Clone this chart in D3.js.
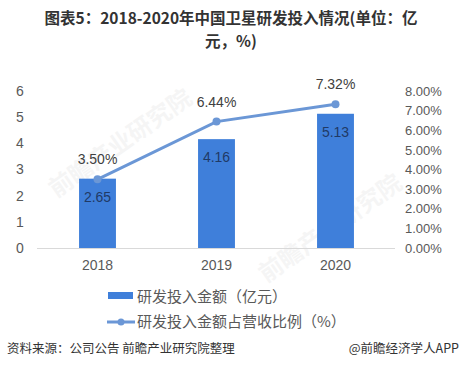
<!DOCTYPE html>
<html>
<head>
<meta charset="utf-8">
<script src="https://cdn.jsdelivr.net/npm/d3@7"></script>
<style>
  body { margin: 0; background: #fff; }
  svg { display: block; }
</style>
</head>
<body>
<div id="chart"></div>
<script>
let width = 462;
let height = 377;

// data
let years = ["2018", "2019", "2020"];
let spending = [2.65, 4.16, 5.13];      // 亿元
let ratio = [3.50, 6.44, 7.32];         // %
let leftTicks = [0, 1, 2, 3, 4, 5, 6];
let rightTicks = [0, 1, 2, 3, 4, 5, 6, 7, 8];
let titleLines = ["图表5：2018-2020年中国卫星研发投入情况(单位：亿", "元，%)"];

let numFont = "'Liberation Sans', Arial, 'Noto Sans CJK SC', sans-serif";
let cjkFont = "'Noto Sans CJK SC', 'Liberation Sans', sans-serif";

let barColor = "#3f7fda";
let lineColor = "#6b97d6";

let svg = d3.select("#chart").append("svg")
    .attr("width", width)
    .attr("height", height);

// faint watermark
let wm = [[125, 150], [335, 235]];
wm.forEach(function(p){
    svg.append("text")
        .text("前瞻产业研究院")
        .attr("transform", "translate(" + p[0] + "," + p[1] + ") rotate(-35)")
        .attr("text-anchor", "middle")
        .attr("font-family", cjkFont)
        .attr("font-weight", "bold")
        .attr("font-size", 24)
        .attr("fill", "#000")
        .attr("opacity", 0.035);
});

// title, two separate lines
titleLines.forEach(function(t, i){
    svg.append("text")
        .attr("x", 231)
        .attr("y", 24 + i * 23)
        .attr("text-anchor", "middle")
        .attr("font-family", cjkFont)
        .attr("font-weight", "bold")
        .attr("font-size", 15.5)
        .attr("fill", "#333")
        .text(t);
});

// scales
let xScale = d3.scaleBand().domain(years).range([38, 395]).paddingInner(0.69).paddingOuter(0.345);
let yLeft = d3.scaleLinear().domain([0, 6]).range([248, 91]);
let yRight = d3.scaleLinear().domain([0, 8]).range([248, 91]);

// left axis
let leftAxis = svg.append("g")
    .attr("transform", "translate(27,0)")
    .call(d3.axisLeft(yLeft).tickValues(leftTicks).tickSize(0).tickPadding(0)
        .tickFormat(d3.format("d")));
leftAxis.select(".domain").remove();
leftAxis.selectAll("text")
    .attr("text-anchor", "middle")
    .attr("x", -7)
    .attr("font-family", numFont)
    .attr("font-size", 14)
    .attr("fill", "#595959");

// right axis
let rightAxis = svg.append("g")
    .attr("transform", "translate(405,0)")
    .call(d3.axisRight(yRight).tickValues(rightTicks).tickSize(0).tickPadding(0)
        .tickFormat(d => d.toFixed(2) + "%"));
rightAxis.select(".domain").remove();
rightAxis.selectAll("text")
    .attr("font-family", numFont)
    .attr("font-size", 13)
    .attr("fill", "#595959");

// baseline
svg.append("line")
    .attr("x1", 37).attr("x2", 395)
    .attr("y1", yLeft(0) + 0.5).attr("y2", yLeft(0) + 0.5)
    .attr("stroke", "#d9d9d9")
    .attr("stroke-width", 1);

// x axis labels
let xAxis = svg.append("g")
    .attr("transform", "translate(0," + yLeft(0) + ")")
    .call(d3.axisBottom(xScale).tickSize(0).tickPadding(12));
xAxis.select(".domain").remove();
xAxis.selectAll("text")
    .attr("font-family", numFont)
    .attr("font-size", 14)
    .attr("fill", "#595959");

// bars
svg.selectAll(".bar").data(spending).enter()
    .append("rect")
    .attr("class", "bar")
    .attr("x", (d, i) => xScale(years[i]))
    .attr("y", d => yLeft(d))
    .attr("width", xScale.bandwidth())
    .attr("height", d => yLeft(0) - yLeft(d))
    .attr("fill", barColor);

svg.selectAll(".barlabel").data(spending).enter()
    .append("text")
    .attr("class", "barlabel")
    .attr("x", (d, i) => xScale(years[i]) + xScale.bandwidth() / 2)
    .attr("y", d => yLeft(d) + 23)
    .attr("text-anchor", "middle")
    .attr("font-family", numFont)
    .attr("font-size", 14)
    .attr("fill", "#1f3a66")
    .text(d => d.toFixed(2));

// line
let lineGen = d3.line()
    .x((d, i) => xScale(years[i]) + xScale.bandwidth() / 2)
    .y(d => yRight(d));

svg.append("path")
    .datum(ratio)
    .attr("d", lineGen)
    .attr("fill", "none")
    .attr("stroke", lineColor)
    .attr("stroke-width", 3);

svg.selectAll(".dot").data(ratio).enter()
    .append("circle")
    .attr("class", "dot")
    .attr("cx", (d, i) => xScale(years[i]) + xScale.bandwidth() / 2)
    .attr("cy", d => yRight(d))
    .attr("r", 4)
    .attr("fill", lineColor);

svg.selectAll(".dotlabel").data(ratio).enter()
    .append("text")
    .attr("class", "dotlabel")
    .attr("x", (d, i) => xScale(years[i]) + xScale.bandwidth() / 2)
    .attr("y", d => yRight(d) - 15)
    .attr("text-anchor", "middle")
    .attr("font-family", numFont)
    .attr("font-size", 14)
    .attr("fill", "#404040")
    .text(d => d.toFixed(2) + "%");

// legend
svg.append("rect")
    .attr("x", 108).attr("y", 292)
    .attr("width", 25).attr("height", 7)
    .attr("fill", barColor);
svg.append("text")
    .attr("x", 137).attr("y", 302)
    .attr("font-family", cjkFont)
    .attr("font-size", 15)
    .attr("fill", "#595959")
    .text("研发投入金额（亿元）");

svg.append("line")
    .attr("x1", 107).attr("x2", 135)
    .attr("y1", 322).attr("y2", 322)
    .attr("stroke", lineColor)
    .attr("stroke-width", 3);
svg.append("circle")
    .attr("cx", 121).attr("cy", 322)
    .attr("r", 3.5)
    .attr("fill", lineColor);
svg.append("text")
    .attr("x", 137).attr("y", 327)
    .attr("font-family", cjkFont)
    .attr("font-size", 15)
    .attr("fill", "#595959")
    .text("研发投入金额占营收比例（%）");

// footer
svg.append("text")
    .attr("x", 7).attr("y", 353)
    .attr("font-family", cjkFont)
    .attr("font-size", 12.5)
    .attr("fill", "#333")
    .text("资料来源：公司公告 前瞻产业研究院整理");
svg.append("text")
    .attr("x", 459).attr("y", 353)
    .attr("text-anchor", "end")
    .attr("font-family", cjkFont)
    .attr("font-size", 12.5)
    .attr("fill", "#333")
    .text("@前瞻经济学人APP");
</script>
</body>
</html>
